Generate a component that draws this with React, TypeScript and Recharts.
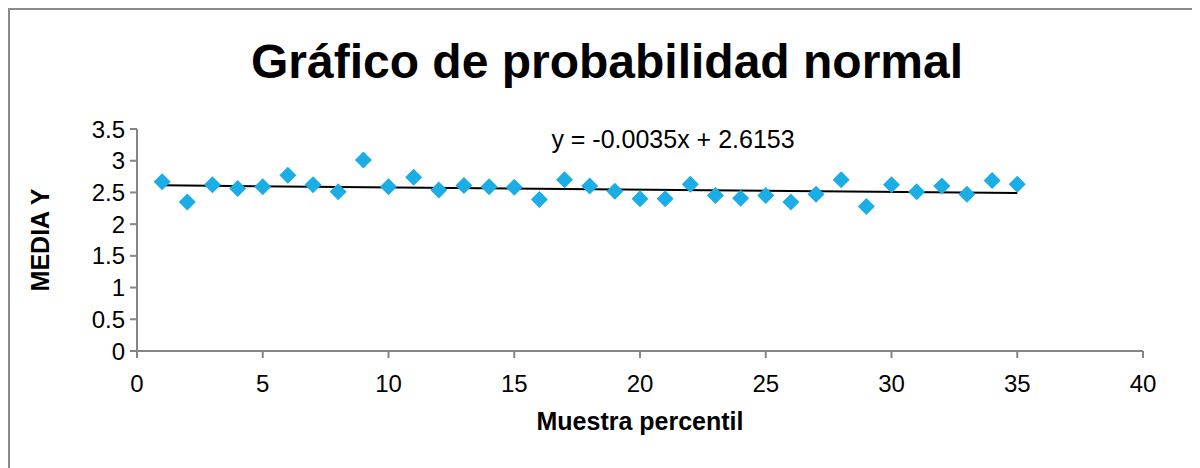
import { Label, ReferenceLine, Scatter, ScatterChart, XAxis, YAxis } from 'recharts';

const percentil = [
  1, 2, 3, 4, 5, 6, 7, 8, 9, 10, 11, 12, 13, 14, 15, 16, 17, 18, 19, 20, 21, 22, 23, 24, 25, 26, 27,
  28, 29, 30, 31, 32, 33, 34, 35,
];
const mediaY = [
  2.67, 2.35, 2.62, 2.56, 2.59, 2.77, 2.62, 2.51, 3.01, 2.59, 2.74, 2.54, 2.61, 2.59, 2.58, 2.39,
  2.7, 2.6, 2.52, 2.4, 2.4, 2.63, 2.45, 2.41, 2.45, 2.35, 2.47, 2.7, 2.28, 2.62, 2.51, 2.6, 2.47,
  2.69, 2.63,
];
const xTicks = [0, 5, 10, 15, 20, 25, 30, 35, 40];
const yTicks = [0, 0.5, 1, 1.5, 2, 2.5, 3, 3.5];
const slope = -0.0035;
const intercept = 2.6153;

const data = percentil.map((x, i) => ({ x, y: mediaY[i] }));
const trendStart = percentil[0];
const trendEnd = percentil[percentil.length - 1];

const FONT = '"Liberation Sans", Arial, sans-serif';
const AXIS = '#868686';

const Diamond = (props: any) => {
  const { cx, cy } = props;
  const r = 8.5;
  return (
    <polygon
      points={`${cx},${cy - r} ${cx + r},${cy} ${cx},${cy + r} ${cx - r},${cy}`}
      fill="#1aade6"
    />
  );
};

export default function App() {
  return (
    <div
      style={{
        position: 'relative',
        width: 1190,
        height: 458,
        borderTop: '2px solid #8a8a8a',
        borderLeft: '2px solid #8a8a8a',
        fontFamily: FONT,
        background: '#fff',
      }}
    >
      <div
        style={{
          position: 'absolute',
          left: 0,
          width: 1194,
          top: 24,
          textAlign: 'center',
          fontSize: 48,
          fontWeight: 'bold',
          lineHeight: '56px',
          color: '#000',
        }}
      >
        Gráfico de probabilidad normal
      </div>
      <div
        style={{
          position: 'absolute',
          left: 463,
          width: 400,
          top: 114,
          textAlign: 'center',
          fontSize: 25,
          lineHeight: '30px',
          color: '#000',
        }}
      >
        y = -0.0035x + 2.6153
      </div>
      <ScatterChart width={1190} height={458} margin={{ top: 119, right: 57, left: 0, bottom: 0 }}>
        <XAxis
          type="number"
          dataKey="x"
          domain={[0, 40]}
          ticks={xTicks}
          interval={0}
          height={117}
          stroke={AXIS}
          strokeWidth={2}
          tickSize={7}
          tickMargin={17}
          tick={{ fill: '#000', fontSize: 24, fontFamily: FONT }}
        >
          <Label
            content={({ viewBox }: any) => (
              <text
                x={viewBox.x + viewBox.width / 2}
                y={viewBox.y + 70}
                textAnchor="middle"
                dominantBaseline="central"
                fontSize={25}
                fontWeight="bold"
                fontFamily={FONT}
                fill="#000"
              >
                Muestra percentil
              </text>
            )}
          />
        </XAxis>
        <YAxis
          type="number"
          dataKey="y"
          domain={[0, 3.5]}
          ticks={yTicks}
          interval={0}
          width={127}
          stroke={AXIS}
          strokeWidth={2}
          tickSize={7}
          tickMargin={5}
          tick={{ fill: '#000', fontSize: 24, fontFamily: FONT }}
        >
          <Label
            content={({ viewBox }: any) => (
              <text
                x={30}
                y={viewBox.y + viewBox.height / 2}
                transform={`rotate(-90 30 ${viewBox.y + viewBox.height / 2})`}
                textAnchor="middle"
                dominantBaseline="central"
                fontSize={25}
                fontWeight="bold"
                fontFamily={FONT}
                fill="#000"
              >
                MEDIA Y
              </text>
            )}
          />
        </YAxis>
        <Scatter data={data} shape={Diamond} isAnimationActive={false} />
        <ReferenceLine
          segment={[
            { x: trendStart, y: intercept + slope * trendStart },
            { x: trendEnd, y: intercept + slope * trendEnd },
          ]}
          stroke="#000"
          strokeWidth={2}
        />
      </ScatterChart>
    </div>
  );
}
